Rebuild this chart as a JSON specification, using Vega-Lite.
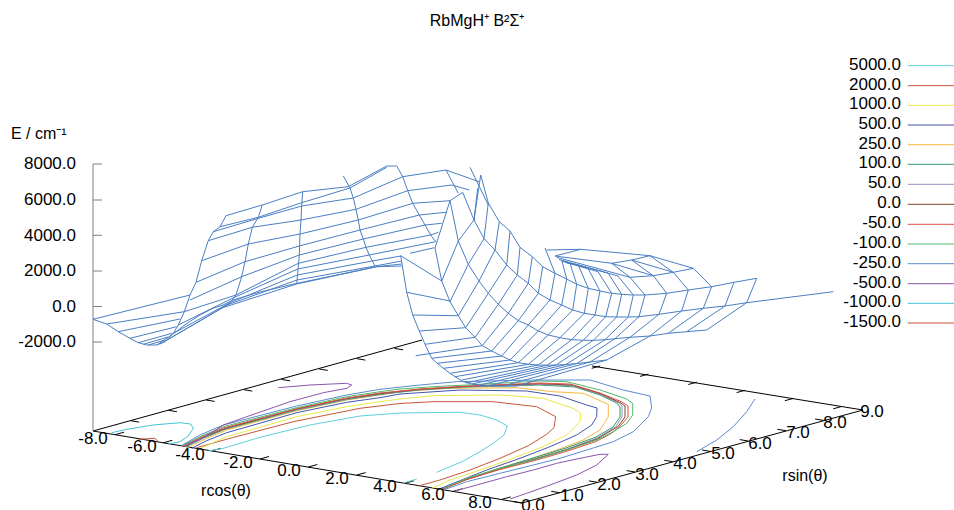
{"$schema":"https://vega.github.io/schema/vega-lite/v6.json","width":954,"height":510,"padding":0,"autosize":"none","background":"white",
"title":{"text":"RbMgH⁺ B²Σ⁺","font":"Liberation Sans","fontSize":16,"fontWeight":"normal","color":"#000000","anchor":"middle","offset":-42,"baseline":"alphabetic"},
"config":{"view":{"stroke":null}},
"datasets":{
"mesh":[
{"s":1,"h":93,"v":319.3},{"s":1,"h":106.7,"v":324},{"s":1,"h":118.3,"v":331.7},{"s":1,"h":130,"v":338.3},{"s":1,"h":138.3,"v":342.7},{"s":1,"h":146.7,"v":345},{"s":1,"h":156.7,"v":345},
{"s":2,"h":156.7,"v":345},{"s":2,"h":165,"v":341.7},{"s":2,"h":173.3,"v":333.3},{"s":2,"h":178.3,"v":325},{"s":2,"h":184.3,"v":311.7},{"s":2,"h":190,"v":295},{"s":2,"h":196,"v":282.3},{"s":2,"h":201.7,"v":260.7},{"s":2,"h":208.3,"v":240.7},{"s":2,"h":213.3,"v":231.7},{"s":2,"h":220,"v":226.7},{"s":2,"h":226,"v":215.7},
{"s":3,"h":222.7,"v":307.7},{"s":3,"h":230,"v":302.7},{"s":3,"h":236,"v":295},{"s":3,"h":241.7,"v":276.7},{"s":3,"h":245,"v":261.7},{"s":3,"h":248.3,"v":244},{"s":3,"h":252.3,"v":227.3},{"s":3,"h":258.3,"v":217.3},{"s":3,"h":262.3,"v":205},
{"s":4,"h":296.7,"v":284},{"s":4,"h":297.7,"v":273.3},{"s":4,"h":299.3,"v":255},{"s":4,"h":300,"v":234},{"s":4,"h":301,"v":220},{"s":4,"h":301.7,"v":205},{"s":4,"h":302.7,"v":191.7},
{"s":5,"h":343.3,"v":176},{"s":5,"h":350,"v":188},{"s":5,"h":353.3,"v":198},{"s":5,"h":356,"v":209.3},{"s":5,"h":358.3,"v":220},{"s":5,"h":360,"v":230},{"s":5,"h":363.3,"v":239},{"s":5,"h":366,"v":247.3},{"s":5,"h":369.3,"v":255},{"s":5,"h":375,"v":266},
{"s":6,"h":396.7,"v":166},{"s":6,"h":402.7,"v":176.7},{"s":6,"h":407.7,"v":190.7},{"s":6,"h":412.7,"v":203.3},{"s":6,"h":419.3,"v":215},{"s":6,"h":425,"v":225},{"s":6,"h":430.7,"v":235},{"s":6,"h":435.7,"v":241.7},
{"s":7,"h":93,"v":319.3},{"s":7,"h":190,"v":295},
{"s":8,"h":106.7,"v":324},{"s":8,"h":184.3,"v":311.7},
{"s":9,"h":118.3,"v":331.7},{"s":9,"h":180,"v":319},
{"s":10,"h":130,"v":338.3},{"s":10,"h":176.7,"v":326.7},
{"s":11,"h":138.3,"v":342.7},{"s":11,"h":172,"v":333.3},
{"s":12,"h":143.3,"v":344.3},{"s":12,"h":168,"v":337},
{"s":13,"h":148.3,"v":345},{"s":13,"h":165,"v":340},
{"s":14,"h":156.7,"v":345},{"s":14,"h":173,"v":334},{"s":14,"h":187,"v":323.3},{"s":14,"h":200,"v":315},{"s":14,"h":213,"v":308.3},{"s":14,"h":223,"v":305},{"s":14,"h":233,"v":300},{"s":14,"h":260,"v":292},{"s":14,"h":297,"v":283.3},{"s":14,"h":376.7,"v":266.7},{"s":14,"h":401.7,"v":266},
{"s":15,"h":226,"v":215.7},{"s":15,"h":262.3,"v":205},{"s":15,"h":302.7,"v":191.7},{"s":15,"h":348.3,"v":186.7},{"s":15,"h":386.7,"v":166},{"s":15,"h":396.7,"v":166},
{"s":16,"h":220,"v":226.7},{"s":16,"h":258.3,"v":217.3},{"s":16,"h":301.7,"v":202.7},{"s":16,"h":350,"v":188},{"s":16,"h":386.7,"v":167.3},
{"s":17,"h":213.3,"v":231.7},{"s":17,"h":256,"v":219},{"s":17,"h":301.7,"v":206},{"s":17,"h":353.3,"v":198},{"s":17,"h":402.7,"v":176.7},{"s":17,"h":446,"v":170},{"s":17,"h":479,"v":181.7},
{"s":18,"h":208.3,"v":240.7},{"s":18,"h":252.3,"v":227.3},{"s":18,"h":301,"v":220},{"s":18,"h":356,"v":209.3},{"s":18,"h":407.7,"v":190.7},{"s":18,"h":451.7,"v":185},{"s":18,"h":469.3,"v":190},
{"s":19,"h":201.7,"v":260.7},{"s":19,"h":248.3,"v":244},{"s":19,"h":300,"v":234},{"s":19,"h":358.3,"v":220},{"s":19,"h":412.7,"v":203.3},{"s":19,"h":450,"v":200.7},
{"s":20,"h":196,"v":282.3},{"s":20,"h":245,"v":261.7},{"s":20,"h":299.3,"v":246},{"s":20,"h":360,"v":230},{"s":20,"h":419.3,"v":215},{"s":20,"h":446,"v":212.3},
{"s":21,"h":190,"v":300},{"s":21,"h":241.7,"v":276.7},{"s":21,"h":299.3,"v":255},{"s":21,"h":363.3,"v":239},{"s":21,"h":425,"v":225},{"s":21,"h":441.7,"v":223.3},
{"s":22,"h":184.3,"v":311.7},{"s":22,"h":236,"v":295},{"s":22,"h":298.3,"v":263.3},{"s":22,"h":366,"v":247.3},{"s":22,"h":430.7,"v":235},{"s":22,"h":438.3,"v":232.3},
{"s":23,"h":178.3,"v":325},{"s":23,"h":233,"v":298},{"s":23,"h":297.7,"v":269},{"s":23,"h":369.3,"v":255},{"s":23,"h":435.7,"v":241.7},
{"s":24,"h":173.3,"v":333.3},{"s":24,"h":230,"v":302.7},{"s":24,"h":297.3,"v":275},{"s":24,"h":372,"v":261},{"s":24,"h":401,"v":256},
{"s":25,"h":167,"v":340},{"s":25,"h":227,"v":305},{"s":25,"h":297,"v":280},{"s":25,"h":375,"v":266},{"s":25,"h":401.7,"v":261},
{"s":26,"h":160,"v":344},{"s":26,"h":222.7,"v":307.7},{"s":26,"h":296.7,"v":284},{"s":26,"h":376.7,"v":266.7},{"s":26,"h":401.7,"v":264},
{"s":27,"h":446,"v":170},{"s":27,"h":458.3,"v":193.3},
{"s":28,"h":410,"v":253.3},{"s":28,"h":434.3,"v":247.7},
{"s":29,"h":400.7,"v":255.7},{"s":29,"h":441.7,"v":281},
{"s":30,"h":450,"v":200.7},{"s":30,"h":462.7,"v":192.3},{"s":30,"h":474,"v":220},
{"s":31,"h":470,"v":167.3},{"s":31,"h":488.3,"v":205},
{"s":40,"h":400.7,"v":255.7},{"s":40,"h":406.7,"v":292.3},{"s":40,"h":412.7,"v":315},{"s":40,"h":419.3,"v":331},{"s":40,"h":425,"v":344.3},{"s":40,"h":431.7,"v":358.3},{"s":40,"h":437.3,"v":363.3},{"s":40,"h":443.3,"v":368.3},{"s":40,"h":450,"v":373.3},{"s":40,"h":455,"v":376.7},{"s":40,"h":463.3,"v":381.7},{"s":40,"h":472,"v":384},{"s":40,"h":485,"v":385.5},{"s":40,"h":500,"v":386},{"s":40,"h":516.7,"v":386},{"s":40,"h":606.7,"v":360},
{"s":41,"h":450,"v":200.7},{"s":41,"h":435,"v":248},{"s":41,"h":441.7,"v":281},{"s":41,"h":450,"v":301.7},{"s":41,"h":458.3,"v":315.7},{"s":41,"h":465.7,"v":327.7},{"s":41,"h":475,"v":337.3},{"s":41,"h":482.3,"v":345.7},{"s":41,"h":491.7,"v":351},{"s":41,"h":501.7,"v":356},{"s":41,"h":510,"v":360},{"s":41,"h":518.3,"v":362.7},{"s":41,"h":528.3,"v":364.3},{"s":41,"h":538.3,"v":365},{"s":41,"h":547,"v":365.2},{"s":41,"h":556,"v":365},{"s":41,"h":566,"v":364.5},{"s":41,"h":577,"v":363.5},{"s":41,"h":590,"v":362},{"s":41,"h":606.7,"v":360},
{"s":42,"h":450,"v":200.7},{"s":42,"h":458.3,"v":241},{"s":42,"h":468.3,"v":264.3},{"s":42,"h":479,"v":281},{"s":42,"h":488.3,"v":293.3},{"s":42,"h":498.3,"v":304.3},{"s":42,"h":508.3,"v":313.3},{"s":42,"h":518.3,"v":320.7},{"s":42,"h":528.3,"v":325},{"s":42,"h":538.3,"v":331},{"s":42,"h":548.3,"v":335},{"s":42,"h":560,"v":337.7},{"s":42,"h":571.7,"v":339.7},{"s":42,"h":583.3,"v":340.3},{"s":42,"h":593.3,"v":340.3},{"s":42,"h":605,"v":339.7},{"s":42,"h":615,"v":338.7},{"s":42,"h":630,"v":337.3},{"s":42,"h":650,"v":336},{"s":42,"h":668.3,"v":333.3},{"s":42,"h":686.7,"v":331.7},{"s":42,"h":706.7,"v":330},
{"s":43,"h":477.7,"v":188.3},{"s":43,"h":474,"v":220},{"s":43,"h":484,"v":238.7},{"s":43,"h":495,"v":250},{"s":43,"h":506.7,"v":265},{"s":43,"h":517.3,"v":275},{"s":43,"h":528.3,"v":283.3},{"s":43,"h":538.3,"v":293.3},{"s":43,"h":550,"v":300},{"s":43,"h":561.7,"v":305},{"s":43,"h":572.7,"v":310},{"s":43,"h":584.3,"v":313.3},{"s":43,"h":595,"v":315},{"s":43,"h":605.7,"v":316.7},{"s":43,"h":616.7,"v":317},{"s":43,"h":628.3,"v":317},{"s":43,"h":639,"v":316.7},{"s":43,"h":659,"v":314.3},{"s":43,"h":681.7,"v":311},{"s":43,"h":703.3,"v":308.3},{"s":43,"h":725,"v":306},{"s":43,"h":746.7,"v":302.7},{"s":43,"h":833.3,"v":291.7},
{"s":44,"h":480.7,"v":175},{"s":44,"h":488.3,"v":203},{"s":44,"h":499.3,"v":221.7},{"s":44,"h":510,"v":231},{"s":44,"h":520,"v":247.3},{"s":44,"h":532.3,"v":256.7},{"s":44,"h":542.7,"v":266.7},{"s":44,"h":555,"v":273.3},{"s":44,"h":566.7,"v":279},{"s":44,"h":576.7,"v":284.3},{"s":44,"h":588.3,"v":288.3},{"s":44,"h":600,"v":291},{"s":44,"h":611.7,"v":293.3},{"s":44,"h":621.7,"v":294.3},{"s":44,"h":633.3,"v":295},{"s":44,"h":645,"v":295},{"s":44,"h":666.7,"v":293.3},{"s":44,"h":688.3,"v":290},{"s":44,"h":711.7,"v":286.7},{"s":44,"h":734,"v":282.3},{"s":44,"h":756.7,"v":278.3},
{"s":50,"h":406.7,"v":292.3},{"s":50,"h":450,"v":301},
{"s":51,"h":412.7,"v":315},{"s":51,"h":458.3,"v":315.7},
{"s":52,"h":419.3,"v":331},{"s":52,"h":465.7,"v":327.7},
{"s":53,"h":425,"v":344.3},{"s":53,"h":475,"v":337.3},
{"s":54,"h":415.7,"v":355.7},{"s":54,"h":482.3,"v":345.7},
{"s":55,"h":431.7,"v":358.3},{"s":55,"h":491.7,"v":351},
{"s":56,"h":437.3,"v":363.3},{"s":56,"h":501.7,"v":356},
{"s":57,"h":443.3,"v":368.3},{"s":57,"h":510,"v":360},
{"s":58,"h":450,"v":373.3},{"s":58,"h":518.3,"v":362.7},
{"s":59,"h":455,"v":376.7},{"s":59,"h":528.3,"v":364.3},
{"s":60,"h":461.7,"v":380},{"s":60,"h":538.3,"v":365},
{"s":61,"h":466,"v":383},{"s":61,"h":547,"v":365.2},
{"s":62,"h":472,"v":384},{"s":62,"h":556,"v":365},
{"s":63,"h":480,"v":385},{"s":63,"h":566,"v":364.5},
{"s":64,"h":490,"v":385.5},{"s":64,"h":577,"v":363.5},
{"s":65,"h":503,"v":386},{"s":65,"h":590,"v":362},
{"s":70,"h":441.7,"v":281},{"s":70,"h":458.3,"v":241},{"s":70,"h":474,"v":220},{"s":70,"h":480.7,"v":175},
{"s":71,"h":450,"v":301.7},{"s":71,"h":468.3,"v":264.3},{"s":71,"h":484,"v":238.7},{"s":71,"h":488.3,"v":203},
{"s":72,"h":458.3,"v":315.7},{"s":72,"h":479,"v":281},{"s":72,"h":495,"v":250},{"s":72,"h":499.3,"v":221.7},
{"s":73,"h":465.7,"v":327.7},{"s":73,"h":488.3,"v":293.3},{"s":73,"h":506.7,"v":265},{"s":73,"h":510,"v":231},
{"s":74,"h":475,"v":337.3},{"s":74,"h":498.3,"v":304.3},{"s":74,"h":517.3,"v":275},{"s":74,"h":520,"v":247.3},
{"s":75,"h":482.3,"v":345.7},{"s":75,"h":508.3,"v":313.3},{"s":75,"h":528.3,"v":283.3},{"s":75,"h":532.3,"v":256.7},
{"s":76,"h":491.7,"v":351},{"s":76,"h":518.3,"v":320.7},{"s":76,"h":538.3,"v":293.3},{"s":76,"h":542.7,"v":266.7},
{"s":77,"h":501.7,"v":356},{"s":77,"h":528.3,"v":325},{"s":77,"h":550,"v":300},{"s":77,"h":555,"v":273.3},
{"s":78,"h":510,"v":360},{"s":78,"h":538.3,"v":331},{"s":78,"h":561.7,"v":305},{"s":78,"h":566.7,"v":279},
{"s":79,"h":518.3,"v":362.7},{"s":79,"h":548.3,"v":335},{"s":79,"h":572.7,"v":310},{"s":79,"h":576.7,"v":284.3},
{"s":80,"h":528.3,"v":364.3},{"s":80,"h":560,"v":337.7},{"s":80,"h":584.3,"v":313.3},{"s":80,"h":588.3,"v":288.3},
{"s":81,"h":538.3,"v":365},{"s":81,"h":571.7,"v":339.7},{"s":81,"h":595,"v":315},{"s":81,"h":600,"v":291},
{"s":82,"h":547,"v":365.2},{"s":82,"h":583.3,"v":340.3},{"s":82,"h":605.7,"v":316.7},{"s":82,"h":611.7,"v":293.3},
{"s":83,"h":556,"v":365},{"s":83,"h":593.3,"v":340.3},{"s":83,"h":616.7,"v":317},{"s":83,"h":621.7,"v":294.3},
{"s":84,"h":566,"v":364.5},{"s":84,"h":605,"v":339.7},{"s":84,"h":628.3,"v":317},{"s":84,"h":633.3,"v":295},
{"s":85,"h":577,"v":363.5},{"s":85,"h":615,"v":338.7},{"s":85,"h":639,"v":316.7},{"s":85,"h":645,"v":295},
{"s":86,"h":590,"v":362},{"s":86,"h":630,"v":337.3},{"s":86,"h":659,"v":314.3},{"s":86,"h":666.7,"v":293.3},
{"s":87,"h":606.7,"v":360},{"s":87,"h":650,"v":336},{"s":87,"h":681.7,"v":311},{"s":87,"h":688.3,"v":290},
{"s":88,"h":668.3,"v":333.3},{"s":88,"h":703.3,"v":308.3},{"s":88,"h":711.7,"v":286.7},
{"s":89,"h":686.7,"v":331.7},{"s":89,"h":725,"v":306},{"s":89,"h":734,"v":282.3},
{"s":90,"h":706.7,"v":330},{"s":90,"h":746.7,"v":302.7},{"s":90,"h":756.7,"v":278.3},
{"s":100,"h":546.7,"v":250},{"s":100,"h":580.7,"v":249.3},{"s":100,"h":650,"v":255.7},{"s":100,"h":693.3,"v":268.3},{"s":100,"h":711.7,"v":286.7},
{"s":101,"h":555,"v":256},{"s":101,"h":580.7,"v":249.3},
{"s":102,"h":555,"v":256},{"s":102,"h":611.7,"v":263.3},{"s":102,"h":631.7,"v":260},{"s":102,"h":650,"v":255.7},
{"s":103,"h":556.7,"v":257.3},{"s":103,"h":630,"v":277.3},{"s":103,"h":653.3,"v":275.7},{"s":103,"h":673.3,"v":272.3},{"s":103,"h":693.3,"v":268.3},
{"s":104,"h":611.7,"v":263.3},{"s":104,"h":653.3,"v":275.7},
{"s":105,"h":631.7,"v":260},{"s":105,"h":673.3,"v":272.3},
{"s":106,"h":688.3,"v":290},{"s":106,"h":673.3,"v":272.3},{"s":106,"h":650,"v":255.7},
{"s":107,"h":666.7,"v":293.3},{"s":107,"h":653.3,"v":275.7},{"s":107,"h":631.7,"v":260},
{"s":108,"h":645,"v":295},{"s":108,"h":630,"v":277.3},{"s":108,"h":611.7,"v":263.3},
{"s":109,"h":633.3,"v":295},{"s":109,"h":618,"v":276},{"s":109,"h":559,"v":259.5},
{"s":110,"h":621.7,"v":294.3},{"s":110,"h":608,"v":273},{"s":110,"h":561,"v":260.5},
{"s":111,"h":611.7,"v":293.3},{"s":111,"h":598,"v":271.7},{"s":111,"h":563,"v":261.5},
{"s":112,"h":600,"v":291},{"s":112,"h":588,"v":268.3},{"s":112,"h":565,"v":262},
{"s":113,"h":588.3,"v":288.3},{"s":113,"h":578.3,"v":265},{"s":113,"h":567,"v":263},
{"s":114,"h":576.7,"v":284.3},{"s":114,"h":570,"v":263.3},
{"s":115,"h":566.7,"v":279},{"s":115,"h":561.7,"v":260},
{"s":116,"h":555,"v":273.3},{"s":116,"h":545,"v":248}
],
"contours":[
{"level":"5000.0","part":1,"h":208.3,"v":451},{"level":"5000.0","part":1,"h":223.3,"v":448.3},{"level":"5000.0","part":1,"h":260,"v":437.3},{"level":"5000.0","part":1,"h":310,"v":425},{"level":"5000.0","part":1,"h":360,"v":416},{"level":"5000.0","part":1,"h":400,"v":413},{"level":"5000.0","part":1,"h":420,"v":412.7},{"level":"5000.0","part":1,"h":460,"v":412.3},{"level":"5000.0","part":1,"h":480,"v":415},{"level":"5000.0","part":1,"h":496.7,"v":420},{"level":"5000.0","part":1,"h":507.3,"v":426},{"level":"5000.0","part":1,"h":504,"v":435},{"level":"5000.0","part":1,"h":493.3,"v":443.3},{"level":"5000.0","part":1,"h":480,"v":451.7},{"level":"5000.0","part":1,"h":463.3,"v":461},{"level":"5000.0","part":1,"h":436.7,"v":472.3},
{"level":"5000.0","part":2,"h":403,"v":483.3},{"level":"5000.0","part":2,"h":416.7,"v":479},
{"level":"2000.0","part":1,"h":196.7,"v":447.7},{"level":"2000.0","part":1,"h":230,"v":438.3},{"level":"2000.0","part":1,"h":293.3,"v":421.7},{"level":"2000.0","part":1,"h":360,"v":408.3},{"level":"2000.0","part":1,"h":400,"v":403.5},{"level":"2000.0","part":1,"h":433,"v":401.7},{"level":"2000.0","part":1,"h":493,"v":401.7},{"level":"2000.0","part":1,"h":536.7,"v":406.7},{"level":"2000.0","part":1,"h":555.7,"v":416.7},{"level":"2000.0","part":1,"h":554,"v":427.7},{"level":"2000.0","part":1,"h":546.7,"v":434.3},{"level":"2000.0","part":1,"h":528.3,"v":445.7},{"level":"2000.0","part":1,"h":500,"v":458.3},{"level":"2000.0","part":1,"h":470,"v":470},{"level":"2000.0","part":1,"h":440,"v":480},{"level":"2000.0","part":1,"h":418.3,"v":486},
{"level":"1000.0","part":1,"h":198.3,"v":449.3},{"level":"1000.0","part":1,"h":226.7,"v":436.7},{"level":"1000.0","part":1,"h":296.7,"v":416.7},{"level":"1000.0","part":1,"h":346.7,"v":406.7},{"level":"1000.0","part":1,"h":380,"v":401.7},{"level":"1000.0","part":1,"h":400,"v":399},{"level":"1000.0","part":1,"h":433,"v":395.7},{"level":"1000.0","part":1,"h":500,"v":395},{"level":"1000.0","part":1,"h":543,"v":398.3},{"level":"1000.0","part":1,"h":573,"v":408.3},{"level":"1000.0","part":1,"h":580.7,"v":413.3},{"level":"1000.0","part":1,"h":580,"v":421.7},{"level":"1000.0","part":1,"h":566.7,"v":435},{"level":"1000.0","part":1,"h":543,"v":446.7},{"level":"1000.0","part":1,"h":513,"v":458.3},{"level":"1000.0","part":1,"h":480,"v":470},{"level":"1000.0","part":1,"h":450,"v":480},{"level":"1000.0","part":1,"h":431.7,"v":488.3},
{"level":"500.0","part":1,"h":191.7,"v":448.3},{"level":"500.0","part":1,"h":206.7,"v":440.7},{"level":"500.0","part":1,"h":226.7,"v":432.7},{"level":"500.0","part":1,"h":296.7,"v":412.7},{"level":"500.0","part":1,"h":346.7,"v":402.3},{"level":"500.0","part":1,"h":380,"v":397.7},{"level":"500.0","part":1,"h":400,"v":394},{"level":"500.0","part":1,"h":460,"v":390},{"level":"500.0","part":1,"h":526.7,"v":391},{"level":"500.0","part":1,"h":560,"v":396},{"level":"500.0","part":1,"h":586.7,"v":405},{"level":"500.0","part":1,"h":597,"v":408},{"level":"500.0","part":1,"h":596.7,"v":416.7},{"level":"500.0","part":1,"h":591.7,"v":425},{"level":"500.0","part":1,"h":576.7,"v":435},{"level":"500.0","part":1,"h":550,"v":446.7},{"level":"500.0","part":1,"h":520,"v":458.3},{"level":"500.0","part":1,"h":486.7,"v":470},{"level":"500.0","part":1,"h":453.3,"v":483.3},{"level":"500.0","part":1,"h":436.7,"v":490},
{"level":"250.0","part":1,"h":188.3,"v":447.3},{"level":"250.0","part":1,"h":206.7,"v":438.3},{"level":"250.0","part":1,"h":226.7,"v":430},{"level":"250.0","part":1,"h":296.7,"v":410.7},{"level":"250.0","part":1,"h":346.7,"v":400},{"level":"250.0","part":1,"h":380,"v":395},{"level":"250.0","part":1,"h":400,"v":391.7},{"level":"250.0","part":1,"h":450,"v":388.3},{"level":"250.0","part":1,"h":516.7,"v":387.7},{"level":"250.0","part":1,"h":553,"v":391.7},{"level":"250.0","part":1,"h":583.3,"v":393.3},{"level":"250.0","part":1,"h":608.3,"v":404.3},{"level":"250.0","part":1,"h":608.3,"v":416.7},{"level":"250.0","part":1,"h":600,"v":430},{"level":"250.0","part":1,"h":583.3,"v":440},{"level":"250.0","part":1,"h":556.7,"v":450},{"level":"250.0","part":1,"h":526.7,"v":460},{"level":"250.0","part":1,"h":493.3,"v":470},{"level":"250.0","part":1,"h":460,"v":481.7},{"level":"250.0","part":1,"h":440,"v":490},
{"level":"100.0","part":1,"h":186,"v":446.8},{"level":"100.0","part":1,"h":204,"v":438},{"level":"100.0","part":1,"h":225,"v":429.3},{"level":"100.0","part":1,"h":296.7,"v":410},{"level":"100.0","part":1,"h":346.7,"v":399.5},{"level":"100.0","part":1,"h":380,"v":394.5},{"level":"100.0","part":1,"h":420,"v":389.8},{"level":"100.0","part":1,"h":467,"v":387},{"level":"100.0","part":1,"h":540,"v":385},{"level":"100.0","part":1,"h":575,"v":387},{"level":"100.0","part":1,"h":600,"v":395},{"level":"100.0","part":1,"h":616.7,"v":403},{"level":"100.0","part":1,"h":620,"v":407},{"level":"100.0","part":1,"h":620,"v":417},{"level":"100.0","part":1,"h":613,"v":427},{"level":"100.0","part":1,"h":596,"v":437},{"level":"100.0","part":1,"h":566,"v":448},{"level":"100.0","part":1,"h":530,"v":459},{"level":"100.0","part":1,"h":497,"v":469},{"level":"100.0","part":1,"h":463,"v":480.5},{"level":"100.0","part":1,"h":441.5,"v":489.5},
{"level":"50.0","part":1,"h":185,"v":446.7},{"level":"50.0","part":1,"h":203,"v":437.8},{"level":"50.0","part":1,"h":224.5,"v":429},{"level":"50.0","part":1,"h":296.7,"v":409.5},{"level":"50.0","part":1,"h":346.7,"v":399},{"level":"50.0","part":1,"h":380,"v":394},{"level":"50.0","part":1,"h":420,"v":389.5},{"level":"50.0","part":1,"h":467,"v":386.7},{"level":"50.0","part":1,"h":540,"v":384.3},{"level":"50.0","part":1,"h":573,"v":385.7},{"level":"50.0","part":1,"h":600,"v":394},{"level":"50.0","part":1,"h":618,"v":402.5},{"level":"50.0","part":1,"h":622,"v":406},{"level":"50.0","part":1,"h":622,"v":417},{"level":"50.0","part":1,"h":615.5,"v":427},{"level":"50.0","part":1,"h":597,"v":438},{"level":"50.0","part":1,"h":566,"v":449.5},{"level":"50.0","part":1,"h":531,"v":459.7},{"level":"50.0","part":1,"h":498,"v":469.3},{"level":"50.0","part":1,"h":464,"v":480.3},{"level":"50.0","part":1,"h":442,"v":489.3},
{"level":"0.0","part":1,"h":184,"v":446.6},{"level":"0.0","part":1,"h":202,"v":437.7},{"level":"0.0","part":1,"h":224,"v":428.7},{"level":"0.0","part":1,"h":296.7,"v":409},{"level":"0.0","part":1,"h":346.7,"v":398.5},{"level":"0.0","part":1,"h":380,"v":393.5},{"level":"0.0","part":1,"h":420,"v":389.3},{"level":"0.0","part":1,"h":467,"v":386.3},{"level":"0.0","part":1,"h":540,"v":383.7},{"level":"0.0","part":1,"h":572,"v":385},{"level":"0.0","part":1,"h":600,"v":393.5},{"level":"0.0","part":1,"h":620,"v":402.5},{"level":"0.0","part":1,"h":625,"v":406},{"level":"0.0","part":1,"h":625,"v":417},{"level":"0.0","part":1,"h":618,"v":426.5},{"level":"0.0","part":1,"h":597,"v":439},{"level":"0.0","part":1,"h":566,"v":450},{"level":"0.0","part":1,"h":532,"v":460},{"level":"0.0","part":1,"h":499,"v":469},{"level":"0.0","part":1,"h":465,"v":480},{"level":"0.0","part":1,"h":442.5,"v":489},
{"level":"-50.0","part":1,"h":182,"v":446.5},{"level":"-50.0","part":1,"h":200,"v":437.5},{"level":"-50.0","part":1,"h":223.3,"v":428},{"level":"-50.0","part":1,"h":296.7,"v":408.7},{"level":"-50.0","part":1,"h":346.7,"v":398},{"level":"-50.0","part":1,"h":380,"v":393},{"level":"-50.0","part":1,"h":420,"v":389},{"level":"-50.0","part":1,"h":467,"v":386},{"level":"-50.0","part":1,"h":540,"v":383},{"level":"-50.0","part":1,"h":570,"v":384},{"level":"-50.0","part":1,"h":600,"v":393},{"level":"-50.0","part":1,"h":622,"v":402},{"level":"-50.0","part":1,"h":628,"v":406},{"level":"-50.0","part":1,"h":628,"v":417},{"level":"-50.0","part":1,"h":620,"v":426},{"level":"-50.0","part":1,"h":612,"v":433},{"level":"-50.0","part":1,"h":596,"v":441.5},{"level":"-50.0","part":1,"h":566,"v":451.5},{"level":"-50.0","part":1,"h":533,"v":461},{"level":"-50.0","part":1,"h":500,"v":469.5},{"level":"-50.0","part":1,"h":466.7,"v":479.5},{"level":"-50.0","part":1,"h":443,"v":489},
{"level":"-100.0","part":1,"h":181.7,"v":446},{"level":"-100.0","part":1,"h":200,"v":436.7},{"level":"-100.0","part":1,"h":223.3,"v":426.7},{"level":"-100.0","part":1,"h":296.7,"v":407.7},{"level":"-100.0","part":1,"h":346.7,"v":396.7},{"level":"-100.0","part":1,"h":380,"v":391.7},{"level":"-100.0","part":1,"h":400,"v":389},{"level":"-100.0","part":1,"h":433,"v":386.7},{"level":"-100.0","part":1,"h":467,"v":385},{"level":"-100.0","part":1,"h":540,"v":381},{"level":"-100.0","part":1,"h":567,"v":381.7},{"level":"-100.0","part":1,"h":600,"v":390},{"level":"-100.0","part":1,"h":626.7,"v":399},{"level":"-100.0","part":1,"h":632.7,"v":403.3},{"level":"-100.0","part":1,"h":632.7,"v":415},{"level":"-100.0","part":1,"h":626.7,"v":423.3},{"level":"-100.0","part":1,"h":613.3,"v":431.7},{"level":"-100.0","part":1,"h":596.7,"v":440},{"level":"-100.0","part":1,"h":566.7,"v":450},{"level":"-100.0","part":1,"h":533.3,"v":460},{"level":"-100.0","part":1,"h":500,"v":468.3},{"level":"-100.0","part":1,"h":466.7,"v":478.3},{"level":"-100.0","part":1,"h":443.3,"v":488.3},
{"level":"-250.0","part":1,"h":181.7,"v":445.3},{"level":"-250.0","part":1,"h":200,"v":435},{"level":"-250.0","part":1,"h":223.3,"v":425},{"level":"-250.0","part":1,"h":296.7,"v":406},{"level":"-250.0","part":1,"h":346.7,"v":395},{"level":"-250.0","part":1,"h":380,"v":389.3},{"level":"-250.0","part":1,"h":420,"v":385},{"level":"-250.0","part":1,"h":456.7,"v":381.7},{"level":"-250.0","part":1,"h":536.7,"v":380},{"level":"-250.0","part":1,"h":590,"v":380},{"level":"-250.0","part":1,"h":623.3,"v":390},{"level":"-250.0","part":1,"h":650,"v":396},{"level":"-250.0","part":1,"h":651.7,"v":408},{"level":"-250.0","part":1,"h":648.3,"v":416.7},{"level":"-250.0","part":1,"h":633.3,"v":431.7},{"level":"-250.0","part":1,"h":613.3,"v":441.7},{"level":"-250.0","part":1,"h":590,"v":449},{"level":"-250.0","part":1,"h":560,"v":458.3},{"level":"-250.0","part":1,"h":533.3,"v":465},{"level":"-250.0","part":1,"h":500,"v":473.3},{"level":"-250.0","part":1,"h":466.7,"v":481.7},{"level":"-250.0","part":1,"h":443.3,"v":490},
{"level":"-250.0","part":2,"h":755,"v":399},{"level":"-250.0","part":2,"h":746.7,"v":411.7},{"level":"-250.0","part":2,"h":733.3,"v":426.7},{"level":"-250.0","part":2,"h":716.7,"v":440},{"level":"-250.0","part":2,"h":696.7,"v":451.7},
{"level":"-500.0","part":1,"h":278.3,"v":387.7},{"level":"-500.0","part":1,"h":310,"v":385},{"level":"-500.0","part":1,"h":346.7,"v":383.3},{"level":"-500.0","part":1,"h":351.7,"v":385},{"level":"-500.0","part":1,"h":346.7,"v":388.3},{"level":"-500.0","part":1,"h":323.3,"v":392.7},{"level":"-500.0","part":1,"h":290,"v":401.7},{"level":"-500.0","part":1,"h":246.7,"v":416.7},{"level":"-500.0","part":1,"h":223.3,"v":425},{"level":"-500.0","part":1,"h":213.3,"v":431.7},{"level":"-500.0","part":1,"h":200,"v":439.3},{"level":"-500.0","part":1,"h":185,"v":445},
{"level":"-500.0","part":2,"h":455,"v":491},{"level":"-500.0","part":2,"h":476.7,"v":485},{"level":"-500.0","part":2,"h":506.7,"v":476.7},{"level":"-500.0","part":2,"h":533.3,"v":470},{"level":"-500.0","part":2,"h":556.7,"v":463.3},{"level":"-500.0","part":2,"h":580,"v":458.3},{"level":"-500.0","part":2,"h":600,"v":454.3},{"level":"-500.0","part":2,"h":608.3,"v":454.3},{"level":"-500.0","part":2,"h":596.7,"v":465},{"level":"-500.0","part":2,"h":576.7,"v":475},{"level":"-500.0","part":2,"h":550,"v":485},{"level":"-500.0","part":2,"h":526.7,"v":493.3},{"level":"-500.0","part":2,"h":510,"v":499},
{"level":"-1000.0","part":1,"h":111.7,"v":432.7},{"level":"-1000.0","part":1,"h":126.7,"v":429.3},{"level":"-1000.0","part":1,"h":153.3,"v":425},{"level":"-1000.0","part":1,"h":180,"v":422.7},{"level":"-1000.0","part":1,"h":190.7,"v":424},{"level":"-1000.0","part":1,"h":193.3,"v":428.3},{"level":"-1000.0","part":1,"h":188.3,"v":436},{"level":"-1000.0","part":1,"h":180,"v":441.7},{"level":"-1000.0","part":1,"h":168.3,"v":444},
{"level":"-1500.0","part":1,"h":138.3,"v":439.3},{"level":"-1500.0","part":1,"h":155,"v":438.3},{"level":"-1500.0","part":1,"h":158.3,"v":441.7}
],
"frame":[
{"s":"front","h":93,"v":431},{"s":"front","h":522,"v":503},
{"s":"right","h":522,"v":503},{"s":"right","h":863,"v":410},
{"s":"backleft","h":93,"v":431},{"s":"backleft","h":422,"v":340},
{"s":"backright","h":592,"v":366},{"s":"backright","h":863,"v":410},
{"s":"x1","h":115,"v":434.7},{"s":"x1","h":124,"v":432.2},
{"s":"x2","h":163.3,"v":442.8},{"s":"x2","h":172.3,"v":440.3},
{"s":"x3","h":211.7,"v":450.9},{"s":"x3","h":220.7,"v":448.4},
{"s":"x4","h":260,"v":459},{"s":"x4","h":269,"v":456.5},
{"s":"x5","h":308.3,"v":467},{"s":"x5","h":317.3,"v":464.5},
{"s":"x6","h":356.7,"v":475.1},{"s":"x6","h":365.7,"v":472.6},
{"s":"x7","h":405,"v":483.2},{"s":"x7","h":414,"v":480.7},
{"s":"x8","h":453.3,"v":491.3},{"s":"x8","h":462.3,"v":488.8},
{"s":"x9","h":501.7,"v":499.4},{"s":"x9","h":510.7,"v":496.9},
{"s":"b1","h":841.7,"v":406.5},{"s":"b1","h":833.2,"v":408.8},
{"s":"b2","h":793.4,"v":398.4},{"s":"b2","h":784.9,"v":400.7},
{"s":"b3","h":745.1,"v":390.3},{"s":"b3","h":736.6,"v":392.6},
{"s":"b4","h":696.8,"v":382.2},{"s":"b4","h":688.3,"v":384.5},
{"s":"b5","h":648.5,"v":374.1},{"s":"b5","h":640,"v":376.4},
{"s":"b6","h":600.2,"v":366},{"s":"b6","h":591.7,"v":368.3},
{"s":"l1","h":130.7,"v":420.7},{"s":"l1","h":139.2,"v":422.1},
{"s":"l2","h":168.4,"v":410.3},{"s":"l2","h":176.9,"v":411.7},
{"s":"l3","h":206.1,"v":400},{"s":"l3","h":214.6,"v":401.4},
{"s":"l4","h":243.8,"v":389.7},{"s":"l4","h":252.3,"v":391.1},
{"s":"l5","h":281.5,"v":379.4},{"s":"l5","h":290,"v":380.8},
{"s":"l6","h":319.2,"v":369},{"s":"l6","h":327.7,"v":370.4},
{"s":"l7","h":356.9,"v":358.7},{"s":"l7","h":365.4,"v":360.1},
{"s":"l8","h":394.6,"v":348.4},{"s":"l8","h":403.1,"v":349.8},
{"s":"r0","h":522,"v":503},{"s":"r0","h":513.5,"v":501.6},
{"s":"r1","h":559.7,"v":492.7},{"s":"r1","h":551.2,"v":491.3},
{"s":"r2","h":597.4,"v":482.3},{"s":"r2","h":588.9,"v":480.9},
{"s":"r3","h":635.1,"v":472},{"s":"r3","h":626.6,"v":470.6},
{"s":"r4","h":672.8,"v":461.7},{"s":"r4","h":664.3,"v":460.3},
{"s":"r5","h":710.5,"v":451.4},{"s":"r5","h":702,"v":450},
{"s":"r6","h":748.2,"v":441},{"s":"r6","h":739.7,"v":439.6},
{"s":"r7","h":785.9,"v":430.7},{"s":"r7","h":777.4,"v":429.3},
{"s":"r8","h":823.6,"v":420.4},{"s":"r8","h":815.1,"v":419}
],
"zaxis":[
{"s":"axis","h":93,"v":164},{"s":"axis","h":93,"v":431},
{"s":"t1","h":93,"v":164},{"s":"t1","h":102,"v":164},
{"s":"t2","h":93,"v":200},{"s":"t2","h":102,"v":200},
{"s":"t3","h":93,"v":235.3},{"s":"t3","h":102,"v":235.3},
{"s":"t4","h":93,"v":271},{"s":"t4","h":102,"v":271},
{"s":"t5","h":93,"v":306.5},{"s":"t5","h":102,"v":306.5},
{"s":"t6","h":93,"v":342},{"s":"t6","h":102,"v":342}
],
"zlabels":[
{"t":"8000.0","h":76,"v":164},{"t":"6000.0","h":76,"v":200},{"t":"4000.0","h":76,"v":235.5},{"t":"2000.0","h":76,"v":271},{"t":"0.0","h":76,"v":306.5},{"t":"-2000.0","h":76,"v":342}
],
"ticklabels":[
{"t":"-8.0","h":93,"v":439},{"t":"-6.0","h":142,"v":447},{"t":"-4.0","h":190,"v":455},{"t":"-2.0","h":238,"v":463},{"t":"0.0","h":289,"v":471},{"t":"2.0","h":337,"v":479},{"t":"4.0","h":385,"v":487},{"t":"6.0","h":433,"v":495},{"t":"8.0","h":480,"v":503},
{"t":"0.0","h":533,"v":506},{"t":"1.0","h":572,"v":496},{"t":"2.0","h":609,"v":485},{"t":"3.0","h":647,"v":475},{"t":"4.0","h":685,"v":464},{"t":"5.0","h":723,"v":454},{"t":"6.0","h":760,"v":444},{"t":"7.0","h":798,"v":433},{"t":"8.0","h":835,"v":423},{"t":"9.0","h":872,"v":412}
],
"axistitles":[
{"t":"rcos(θ)","h":226,"v":491},{"t":"rsin(θ)","h":805,"v":476}
],
"ztitle":[{"t":"E / cm⁻¹","h":11,"v":134}],
"legend":[
{"level":"5000.0","h":907.7,"h2":954,"v":65.7,"lh":901},{"level":"2000.0","h":907.7,"h2":954,"v":85.7,"lh":901},{"level":"1000.0","h":907.7,"h2":954,"v":105.3,"lh":901},{"level":"500.0","h":907.7,"h2":954,"v":125,"lh":901},{"level":"250.0","h":907.7,"h2":954,"v":144.7,"lh":901},{"level":"100.0","h":907.7,"h2":954,"v":164.3,"lh":901},{"level":"50.0","h":907.7,"h2":954,"v":184.3,"lh":901},{"level":"0.0","h":907.7,"h2":954,"v":204.3,"lh":901},{"level":"-50.0","h":907.7,"h2":954,"v":224.3,"lh":901},{"level":"-100.0","h":907.7,"h2":954,"v":244,"lh":901},{"level":"-250.0","h":907.7,"h2":954,"v":263.7,"lh":901},{"level":"-500.0","h":907.7,"h2":954,"v":283.7,"lh":901},{"level":"-1000.0","h":907.7,"h2":954,"v":303.3,"lh":901},{"level":"-1500.0","h":907.7,"h2":954,"v":323,"lh":901}
]
},
"encoding":{
"x":{"field":"h","type":"quantitative","scale":{"domain":[0,954],"nice":false,"zero":false},"axis":null},
"y":{"field":"v","type":"quantitative","scale":{"domain":[510,0],"nice":false,"zero":false},"axis":null}
},
"layer":[
{"data":{"name":"frame"},"mark":{"type":"line","stroke":"#000000","strokeWidth":1,"clip":false},"encoding":{"detail":{"field":"s"},"order":{"value":null}}},
{"data":{"name":"zaxis"},"mark":{"type":"line","stroke":"#7f7f7f","strokeWidth":1},"encoding":{"detail":{"field":"s"},"order":{"value":null}}},
{"data":{"name":"contours"},"transform":[{"calculate":"datum.level+'/'+datum.part","as":"key"}],"mark":{"type":"line","strokeWidth":1},"encoding":{"detail":{"field":"key"},"order":{"value":null},"color":{"field":"level","type":"nominal","legend":null,"scale":{"domain":["5000.0","2000.0","1000.0","500.0","250.0","100.0","50.0","0.0","-50.0","-100.0","-250.0","-500.0","-1000.0","-1500.0"],"range":["#5fcfdc","#c9553a","#e8e84a","#4355aa","#f5b942","#2f9e6b","#9a8cc0","#7a4a2a","#e04f45","#55b96a","#5b8bd0","#8e55b0","#40c4d4","#c9553a"]}}}},
{"data":{"name":"mesh"},"mark":{"type":"line","stroke":"#4a7ec4","strokeWidth":1},"encoding":{"detail":{"field":"s"},"order":{"value":null}}},
{"data":{"name":"legend"},"mark":{"type":"rule","strokeWidth":1},"encoding":{"x2":{"field":"h2"},"color":{"field":"level","type":"nominal","legend":null}}},
{"data":{"name":"legend"},"mark":{"type":"text","align":"right","baseline":"middle","font":"Liberation Sans","fontSize":17,"color":"#000000","dy":-1},"encoding":{"x":{"field":"lh","type":"quantitative"},"text":{"field":"level"}}},
{"data":{"name":"zlabels"},"mark":{"type":"text","align":"right","baseline":"middle","font":"Liberation Sans","fontSize":17,"color":"#000000"},"encoding":{"text":{"field":"t"}}},
{"data":{"name":"ticklabels"},"mark":{"type":"text","align":"center","baseline":"middle","font":"Liberation Sans","fontSize":17,"color":"#000000"},"encoding":{"text":{"field":"t"}}},
{"data":{"name":"axistitles"},"mark":{"type":"text","align":"center","baseline":"middle","font":"Liberation Sans","fontSize":16,"color":"#000000"},"encoding":{"text":{"field":"t"}}},
{"data":{"name":"ztitle"},"mark":{"type":"text","align":"left","baseline":"middle","font":"Liberation Sans","fontSize":16,"color":"#000000"},"encoding":{"text":{"field":"t"}}}
]}
